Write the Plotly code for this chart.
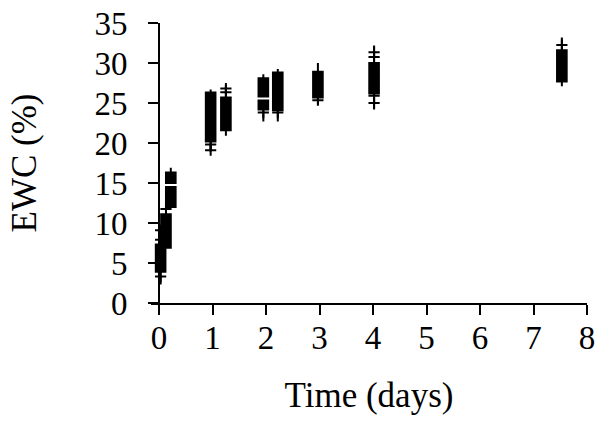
import plotly.graph_objects as go

# Box statistics per measurement group (time in days, EWC in %)
box_time = [0.03, 0.13, 0.22, 0.22, 0.965, 1.25, 1.95, 1.95, 2.22, 2.97, 4.02, 7.53]
box_low = [2.3, 6.9, 12.0, 15.0, 18.9, 20.9, 25.8, 22.7, 22.7, 24.8, 24.2, 27.1]
box_q1 = [3.9, 6.9, 12.0, 15.0, 20.2, 21.6, 25.8, 24.2, 24.1, 25.7, 26.2, 27.7]
box_q3 = [7.3, 11.1, 14.5, 16.3, 26.3, 25.7, 28.1, 25.3, 28.8, 28.9, 30.0, 31.6]
box_high = [7.3, 11.1, 14.5, 16.9, 26.7, 27.25, 28.6, 25.3, 29.25, 30.0, 32.2, 33.2]

# Outlying points drawn as "+" markers
flier_time = [0.03, 0.03, 0.03, 0.13, 0.965, 0.965, 1.25, 1.25, 1.95, 2.22, 2.97,
              4.02, 4.02, 4.02, 4.02, 7.53]
flier_ewc = [3.3, 7.9, 9.1, 11.75, 19.8, 19.1, 26.8, 26.35, 23.8, 23.8, 25.35,
             31.35, 30.75, 25.9, 25.0, 32.25]

x_ticks = list(range(0, 9))
y_ticks = list(range(0, 36, 5))

FONT = "Liberation Serif"
X_MIN = -0.15

medians = [(a + b) / 2 for a, b in zip(box_q1, box_q3)]

fig = go.Figure()
fig.add_trace(go.Box(
    x=box_time,
    q1=box_q1,
    median=medians,
    q3=box_q3,
    lowerfence=box_low,
    upperfence=box_high,
    width=0.18,
    whiskerwidth=0,
    boxpoints=False,
    fillcolor="black",
    line=dict(color="black", width=2),
    orientation="v",
    showlegend=False,
))
fig.add_trace(go.Scatter(
    x=flier_time,
    y=flier_ewc,
    mode="markers",
    marker=dict(symbol="cross-thin", size=8, line=dict(color="black", width=2)),
    showlegend=False,
))

fig.update_layout(
    width=603,
    height=421,
    margin=dict(l=151, r=16, t=23, b=118),
    plot_bgcolor="white",
    paper_bgcolor="white",
    font=dict(family=FONT, color="black", size=34),
    xaxis=dict(
        range=[X_MIN, 8],
        automargin=False,
        tickvals=x_ticks,
        ticktext=[str(v) for v in x_ticks],
        showline=True, linecolor="black", linewidth=2,
        ticks="outside", ticklen=10, tickwidth=2, tickcolor="black",
        showgrid=False, zeroline=False,
        tickfont=dict(family=FONT, size=33),
        ticklabelstandoff=-6,
        title=dict(text="Time (days)", font=dict(family=FONT, size=35), standoff=28),
    ),
    yaxis=dict(
        range=[0, 35],
        automargin=False,
        anchor="free",
        position=(0 - X_MIN) / (8 - X_MIN),
        tickvals=y_ticks,
        ticktext=[str(v) for v in y_ticks],
        showline=True, linecolor="black", linewidth=2,
        ticks="outside", ticklen=10, tickwidth=2, tickcolor="black",
        showgrid=False, zeroline=False,
        tickfont=dict(family=FONT, size=33),
        ticklabelstandoff=14,
        title=dict(text="EWC (%)", font=dict(family=FONT, size=35), standoff=46),
    ),
)

fig.write_html("out.html")
